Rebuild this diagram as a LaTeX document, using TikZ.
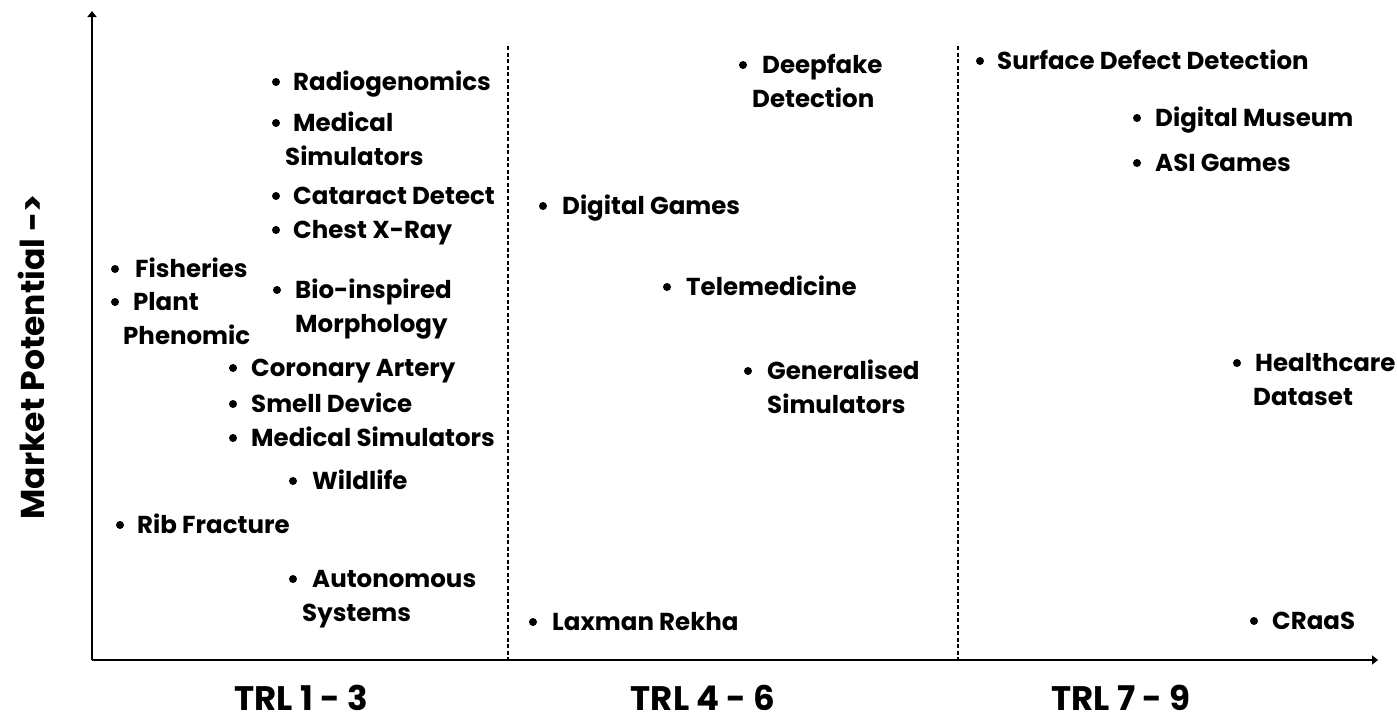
\documentclass[tikz,border=0pt]{standalone}
\usepackage{fontspec}
\setmainfont{Poppins}[BoldFont={Poppins Bold}]
\usetikzlibrary{arrows.meta}
\newcommand\twoline[3]{\begin{tabular}[t]{@{}l@{}}#1\\\hspace*{#2}#3\end{tabular}}
\begin{document}
\begin{tikzpicture}[x=1pt,y=-1pt,
  axis/.style={line width=2pt,-{Triangle[length=6pt,width=9pt]}},
  divider/.style={line width=1.4pt,dash pattern=on 4pt off 2.5pt},
  item/.style={anchor=base west,inner sep=0pt,
    font=\fontsize{24.5}{34}\selectfont\bfseries},
  bul/.style={circle,fill,inner sep=0pt,minimum size=8pt},
  trl/.style={inner sep=0pt,text depth=0pt,font=\fontsize{34}{40}\selectfont\bfseries},
  ylab/.style={inner sep=0pt,rotate=90,font=\fontsize{33}{38}\selectfont\bfseries}]
\useasboundingbox (0,0) rectangle (1397,718);

% axes
\coordinate (o) at (92,660);
\coordinate (ytop) at (92,11);
\coordinate (xend) at (1378,660);
\draw[axis] (o) -- (ytop);
\draw[axis] (o) -- (xend);

% TRL band separators
\coordinate (d1t) at (508,46);
\coordinate (d1b) at (508,660);
\coordinate (d2t) at (958,46);
\coordinate (d2b) at (958,660);
\draw[divider] (d1t) -- (d1b);
\draw[divider] (d2t) -- (d2b);

% axis labels
\node[trl,anchor=base] (trl1) at (301,710) {TRL 1 - 3};
\node[trl,anchor=base] (trl2) at (703,710) {TRL 4 - 6};
\node[trl,anchor=base] (trl3) at (1121,710) {TRL 7 - 9};
\node[ylab] (ylabel) at (31,357) {Market Potential ->};

% TRL 1-3
\node[bul] (b1) at (276,82) {};
\node[item] (radio) at (293,90) {Radiogenomics};
\node[bul] (b2) at (276,123) {};
\node[item] (medsim) at (293,131) {\twoline{Medical}{-8pt}{Simulators}};
\node[bul] (b3) at (276,196) {};
\node[item] (cataract) at (293,204) {Cataract Detect};
\node[bul] (b4) at (276,230) {};
\node[item] (chest) at (293,238) {Chest X-Ray};
\node[bul] (b5) at (115,269) {};
\node[item] (fish) at (135,277) {Fisheries};
\node[bul] (b6) at (115,302) {};
\node[item] (plant) at (133,310) {\twoline{Plant}{-10pt}{Phenomic}};
\node[bul] (b7) at (277,290) {};
\node[item] (bio) at (295,298) {\twoline{Bio-inspired}{0pt}{Morphology}};
\node[bul] (b8) at (233,368) {};
\node[item] (coronary) at (251,376) {Coronary Artery};
\node[bul] (b9) at (233,404) {};
\node[item] (smell) at (251,412) {Smell Device};
\node[bul] (b10) at (233,438) {};
\node[item] (medsim2) at (251,446) {Medical Simulators};
\node[bul] (b11) at (293,481) {};
\node[item] (wild) at (312,489) {Wildlife};
\node[bul] (b12) at (120,525) {};
\node[item] (rib) at (137,533) {Rib Fracture};
\node[bul] (b13) at (293,579) {};
\node[item] (auto) at (312,587) {\twoline{Autonomous}{-10pt}{Systems}};

% TRL 4-6
\node[bul] (b14) at (743,65) {};
\node[item] (deepfake) at (762,73) {\twoline{Deepfake}{-10pt}{Detection}};
\node[bul] (b15) at (543,206) {};
\node[item] (games) at (562,214) {Digital Games};
\node[bul] (b16) at (667,287) {};
\node[item] (tele) at (686,295) {Telemedicine};
\node[bul] (b17) at (748,371) {};
\node[item] (gensim) at (767,379) {\twoline{Generalised}{0pt}{Simulators}};
\node[bul] (b18) at (533,622) {};
\node[item] (laxman) at (552,630) {Laxman Rekha};

% TRL 7-9
\node[bul] (b19) at (980,61) {};
\node[item] (surface) at (997,69) {Surface Defect Detection};
\node[bul] (b20) at (1137,118) {};
\node[item] (museum) at (1155,126) {Digital Museum};
\node[bul] (b21) at (1137,163) {};
\node[item] (asi) at (1155,171) {ASI Games};
\node[bul] (b22) at (1237,363) {};
\node[item] (health) at (1255,371) {\twoline{Healthcare}{-2pt}{Dataset}};
\node[bul] (b23) at (1254,621) {};
\node[item] (craas) at (1272,629) {CRaaS};
\end{tikzpicture}
\end{document}
